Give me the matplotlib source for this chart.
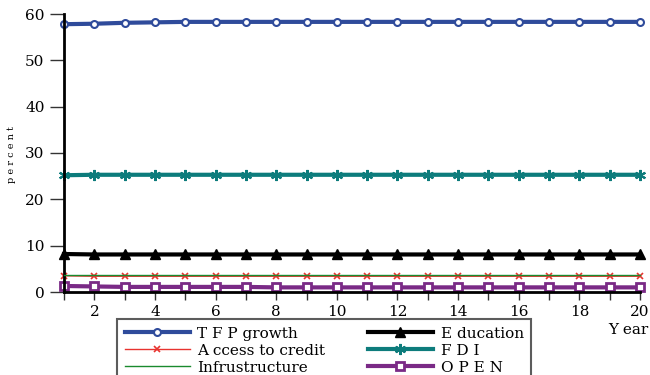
import matplotlib
matplotlib.use("Agg")
import matplotlib.pyplot as plt
import numpy as np

years = list(range(1, 21))
tfp = [57.8, 57.9, 58.1, 58.2, 58.3, 58.3, 58.3, 58.3, 58.3, 58.3,
       58.3, 58.3, 58.3, 58.3, 58.3, 58.3, 58.3, 58.3, 58.3, 58.3]
education = [8.2, 8.1, 8.1, 8.1, 8.1, 8.1, 8.1, 8.1, 8.1, 8.1,
             8.1, 8.1, 8.1, 8.1, 8.1, 8.1, 8.1, 8.1, 8.1, 8.1]
credit = [3.5, 3.4, 3.4, 3.4, 3.4, 3.4, 3.4, 3.4, 3.4, 3.4,
          3.4, 3.4, 3.4, 3.4, 3.4, 3.4, 3.4, 3.4, 3.4, 3.4]
fdi = [25.2, 25.3, 25.3, 25.3, 25.3, 25.3, 25.3, 25.3, 25.3, 25.3,
       25.3, 25.3, 25.3, 25.3, 25.3, 25.3, 25.3, 25.3, 25.3, 25.3]
infra = [3.7, 3.7, 3.7, 3.7, 3.7, 3.7, 3.7, 3.7, 3.7, 3.7,
         3.7, 3.7, 3.7, 3.7, 3.7, 3.7, 3.7, 3.7, 3.7, 3.7]
open_ = [1.3, 1.2, 1.1, 1.1, 1.1, 1.1, 1.1, 1.0, 1.0, 1.0,
         1.0, 1.0, 1.0, 1.0, 1.0, 1.0, 1.0, 1.0, 1.0, 1.0]

plt.rcParams['font.family'] = ['DejaVu Serif']

fig = plt.figure(figsize=(6.5, 3.75), dpi=100)
ax = fig.add_axes([64/650, 1-292/375, (640-64)/650, (292-14)/375])

l1, = ax.plot(years, tfp, color='#2f4b9b', lw=3, marker='o', ms=5,
              mfc='white', mec='#2f4b9b', mew=1.5, label='T F P growth')
l2, = ax.plot(years, credit, color='#e8332f', lw=1, marker='x', ms=4,
              mew=1.2, label='A ccess to credit')
l3, = ax.plot(years, infra, color='#1a8a2e', lw=1, label='Infrustructure')
l4, = ax.plot(years, education, color='black', lw=3, marker='^', ms=7,
              label='E ducation')
l5, = ax.plot(years, fdi, color='#0d7c7c', lw=3, marker=(6, 2, 0), ms=8,
              mew=1.5, label='F D I')
l6, = ax.plot(years, open_, color='#7a2a86', lw=3, marker='s', ms=6,
              mfc='white', mec='#7a2a86', mew=2, label='O P E N')
l3.set_zorder(3)

ax.set_xlim(1, 20)
ax.set_ylim(0, 60)
ax.set_yticks(range(0, 61, 10))
ax.set_xticks(years)
ax.set_xticklabels([str(y) if y % 2 == 0 else '' for y in years])
for s in ['top', 'right']:
    ax.spines[s].set_visible(False)
ax.spines['left'].set_linewidth(2)
ax.spines['bottom'].set_linewidth(2)
ax.tick_params(axis='y', length=10, width=1, labelsize=11, pad=4, colors='#333333', labelcolor='black')
ax.tick_params(axis='x', length=6, width=1, labelsize=11, pad=3, colors='#333333', labelcolor='black')
for l in ax.get_lines():
    l.set_clip_on(False)

fig.text(12/650, 1-155/375, 'p e r c e n t', rotation=90, ha='center', va='center', fontsize=7)
fig.text(648/650, 1-330/375, 'Y ear', ha='right', va='center', fontsize=11)

leg = fig.legend(handles=[l1, l2, l3, l4, l5, l6], ncol=2,
                 loc='upper left', bbox_to_anchor=(117/650, 1-319/375),
                 frameon=True, fancybox=False, edgecolor='#333333',
                 fontsize=11, handlelength=4.25, columnspacing=2.8,
                 borderaxespad=0, labelspacing=0.2, handletextpad=0.5,
                 borderpad=0.5)
leg.get_frame().set_linewidth(1.5)

fig.savefig('out.png', dpi=100)
